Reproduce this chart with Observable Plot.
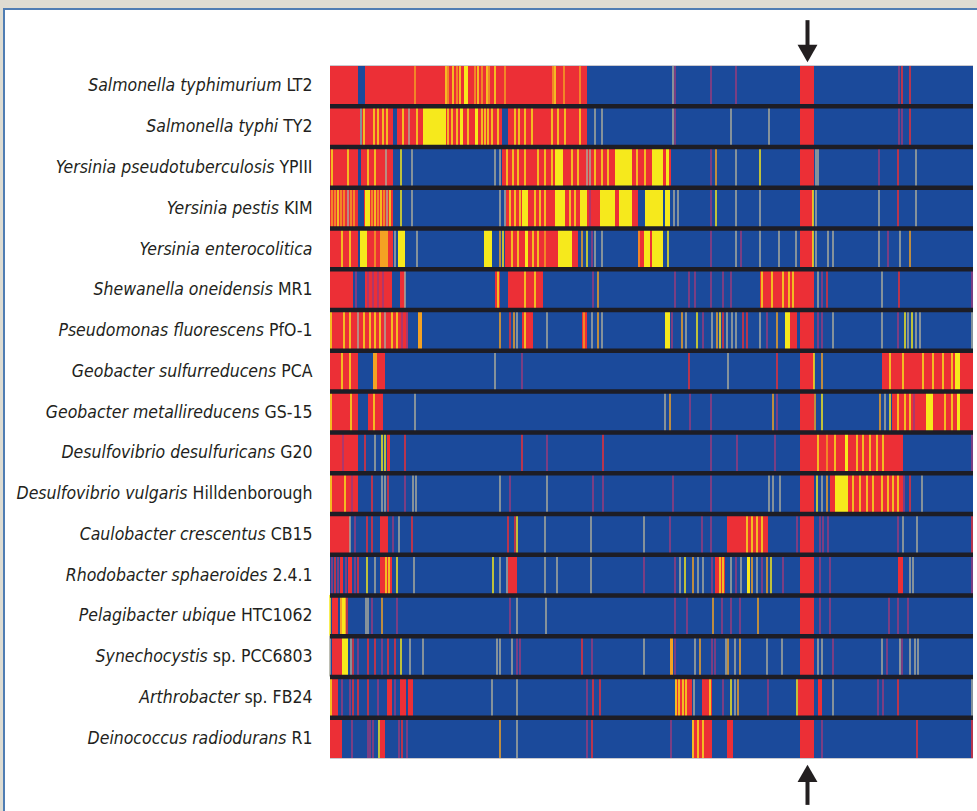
<!DOCTYPE html>
<html>
<head>
<meta charset="utf-8">
<script src="https://cdn.jsdelivr.net/npm/d3@7"></script>
<script src="https://cdn.jsdelivr.net/npm/@observablehq/plot@0.6"></script>
<style>
  html, body { margin: 0; padding: 0; width: 977px; height: 811px; overflow: hidden; background: #dedcd2; }
  #panel { position: absolute; left: 3px; top: 8px; right: 0; bottom: 0; background: #ffffff; border-left: 2px solid #4f7db3; border-top: 2px solid #4f7db3; }
  #chart { position: absolute; left: 0; top: 0; }
</style>
</head>
<body>
<div id="panel"></div>
<div id="chart"></div>
<script>
// Organism names: italic part and regular (strain) part
const genusSpecies = ["Salmonella typhimurium", "Salmonella typhi", "Yersinia pseudotuberculosis", "Yersinia pestis", "Yersinia enterocolitica", "Shewanella oneidensis", "Pseudomonas fluorescens", "Geobacter sulfurreducens", "Geobacter metallireducens", "Desulfovibrio desulfuricans", "Desulfovibrio vulgaris", "Caulobacter crescentus", "Rhodobacter sphaeroides", "Pelagibacter ubique", "Synechocystis", "Arthrobacter", "Deinococcus radiodurans"];
const strains = ["LT2", "TY2", "YPIII", "KIM", "", "MR1", "PfO-1", "PCA", "GS-15", "G20", "Hilldenborough", "CB15", "2.4.1", "HTC1062", "sp. PCC6803", "sp. FB24", "R1"];

// Genome position extent (arbitrary units along the bar)
const barExtent = [0, 643];
// Position of the highlighted (arrow) locus
const arrowLocus = [477];

// Stripe types: B blue background, R red, Y yellow, O orange, G grey, P purple
const stripeTypes = ["B", "R", "Y", "O", "G", "P"];
const stripeColors = ["#1b4a9b", "#ec2f36", "#f6e91c", "#f4a223", "#a9ab9c", "#9a3b7c"];

// Each row: [start, end, type] blocks or [center, type] thin lines
const rowLT2 = [[0,28,"R"],[35,257,"R"],[134,138,"Y"],[470,484,"R"],
  [85,"O"],[116,"Y"],[118,"O"],[123,"Y"],[127,"O"],[130,"Y"],[145,"O"],[148,"Y"],[152,"O"],[157,"Y"],[159,"O"],[165,"Y"],[175,"O"],[223,"O"],[225,"Y"],[234,"O"],[250,"O"],
  [343,"G"],[345,"P"],[381,"P"],[406,"P"],[569,"P"],[572,"R"],[580,"R"]];
const rowTY2 = [[0,30,"R"],[32,63,"R"],[67,93,"R"],[93,116,"Y"],[116,172,"R"],[178,257,"R"],[130,133,"Y"],[145,148,"Y"],[470,484,"R"],
  [31,"G"],[34,"Y"],[44,"Y"],[48,"Y"],[53,"Y"],[57,"Y"],[73,"Y"],[79,"G"],[87,"Y"],[118,"Y"],[122,"Y"],[127,"Y"],[138,"Y"],[152,"Y"],[155,"Y"],[158,"Y"],[162,"Y"],[168,"Y"],
  [185,"Y"],[189,"Y"],[195,"Y"],[202,"Y"],[222,"Y"],[228,"Y"],[235,"Y"],[250,"Y"],[265,"G"],[272,"G"],
  [343,"G"],[345,"P"],[401,"G"],[439,"G"],[569,"P"],[572,"P"],[580,"R"]];
const rowYPIII = [[0,28,"R"],[31,63,"R"],[172,341,"R"],[225,233,"Y"],[285,302,"Y"],[322,333,"Y"],[336,339,"Y"],[470,484,"R"],
  [2,"Y"],[18,"Y"],[38,"Y"],[45,"Y"],[56,"G"],[71,"Y"],[82,"G"],[165,"G"],[170,"G"],
  [177,"Y"],[183,"Y"],[188,"Y"],[195,"Y"],[208,"Y"],[215,"Y"],[222,"Y"],[242,"Y"],[248,"Y"],[257,"G"],[260,"G"],[265,"Y"],[272,"Y"],[278,"Y"],[307,"Y"],[315,"Y"],[323,"Y"],
  [381,"P"],[386,"O"],[406,"G"],[430,"Y"],[486,"G"],[488,"G"],[549,"P"],[568,"R"],[586,"G"]];
const rowKIM = [[0,28,"R"],[34,63,"R"],[35,40,"Y"],[176,308,"R"],[192,198,"Y"],[225,235,"Y"],[250,257,"Y"],[270,285,"Y"],[289,302,"Y"],[315,333,"Y"],[335,340,"Y"],[470,483,"R"],
  [2,"O"],[5,"O"],[8,"Y"],[11,"O"],[14,"O"],[18,"G"],[21,"O"],[24,"O"],[42,"O"],[45,"Y"],[48,"O"],[51,"Y"],[54,"O"],[57,"G"],[60,"Y"],[71,"Y"],[82,"G"],[170,"G"],[175,"G"],
  [180,"Y"],[185,"Y"],[190,"Y"],[205,"Y"],[210,"Y"],[215,"Y"],[240,"Y"],[245,"Y"],[260,"P"],
  [344,"G"],[348,"G"],[381,"P"],[386,"Y"],[406,"G"],[430,"G"],[483,"Y"],[486,"G"],[549,"G"],[568,"R"],[586,"G"]];
const rowEntero = [[0,28,"R"],[30,37,"Y"],[37,50,"R"],[50,58,"O"],[58,63,"R"],[68,75,"Y"],[154,162,"Y"],[175,228,"R"],[195,198,"Y"],[228,242,"Y"],[242,248,"R"],[308,322,"R"],[314,320,"Y"],[322,333,"Y"],[470,483,"R"],
  [12,"Y"],[20,"Y"],[45,"O"],[65,"G"],[87,"G"],[170,"O"],[173,"Y"],[182,"Y"],[188,"Y"],[203,"Y"],[208,"Y"],[215,"O"],[252,"O"],[257,"Y"],[262,"P"],[265,"G"],[272,"G"],[309,"O"],[338,"Y"],
  [381,"P"],[406,"G"],[411,"P"],[430,"G"],[449,"G"],[466,"G"],[483,"Y"],[486,"G"],[498,"G"],[503,"G"],[549,"G"],[558,"P"],[570,"G"],[580,"O"]];
const rowMR1 = [[0,23,"R"],[35,62,"R"],[70,75,"R"],[165,170,"R"],[178,213,"R"],[430,484,"R"],
  [26,"P"],[38,"P"],[43,"P"],[48,"P"],[53,"P"],[75,"G"],[168,"Y"],[195,"Y"],[205,"Y"],[263,"P"],[268,"O"],
  [345,"P"],[359,"P"],[365,"P"],[381,"P"],[393,"P"],[401,"P"],[432,"Y"],[442,"Y"],[453,"Y"],[459,"Y"],[463,"Y"],[488,"G"],[492,"P"],[497,"R"],[552,"G"],[569,"R"],[642,"P"]];
const rowPfO1 = [[0,78,"R"],[88,92,"O"],[192,203,"R"],[252,257,"R"],[335,340,"Y"],[455,460,"Y"],[460,467,"R"],[470,484,"R"],
  [1,"Y"],[14,"Y"],[20,"Y"],[28,"G"],[34,"Y"],[40,"Y"],[45,"Y"],[50,"Y"],[55,"G"],[62,"Y"],[67,"Y"],[72,"P"],[77,"P"],[170,"O"],[180,"R"],[184,"O"],[187,"G"],[195,"Y"],[217,"G"],[254,"O"],[262,"G"],[268,"O"],[272,"G"],
  [342,"P"],[352,"O"],[356,"G"],[367,"Y"],[373,"P"],[382,"G"],[387,"O"],[390,"Y"],[393,"R"],[397,"G"],[402,"G"],[406,"G"],[413,"R"],[417,"R"],[430,"G"],[437,"P"],[447,"O"],
  [488,"P"],[492,"P"],[503,"G"],[552,"G"],[568,"P"],[575,"Y"],[578,"G"],[582,"Y"],[586,"G"],[590,"G"],[642,"G"]];
const rowPCA = [[0,28,"R"],[43,47,"O"],[47,55,"R"],[470,484,"R"],[552,643,"R"],[625,630,"Y"],
  [12,"Y"],[20,"Y"],[165,"G"],[192,"P"],[359,"R"],[398,"G"],[447,"R"],[484,"Y"],[492,"O"],
  [560,"Y"],[573,"Y"],[593,"Y"],[603,"Y"],[613,"Y"],[622,"Y"]];
const rowGS15 = [[0,28,"R"],[38,53,"R"],[470,484,"R"],[562,643,"R"],[596,603,"Y"],[627,630,"Y"],
  [1,"Y"],[21,"Y"],[44,"Y"],[85,"G"],[335,"G"],[340,"O"],[360,"P"],[381,"P"],[443,"O"],[447,"P"],[485,"O"],[492,"Y"],
  [550,"O"],[555,"G"],[560,"Y"],[568,"Y"],[575,"Y"],[580,"Y"],[584,"P"],[615,"Y"],[622,"Y"]];
const rowG20 = [[0,28,"R"],[57,60,"R"],[470,573,"R"],[515,518,"Y"],
  [13,"P"],[35,"R"],[45,"G"],[52,"Y"],[55,"Y"],[75,"R"],[192,"R"],[217,"P"],[273,"R"],
  [381,"P"],[407,"P"],[445,"P"],[488,"Y"],[497,"O"],[505,"Y"],[527,"Y"],[533,"Y"],[540,"Y"],[547,"Y"],[553,"Y"],[642,"P"]];
const rowHild = [[0,28,"R"],[470,484,"R"],[500,573,"R"],[505,518,"Y"],
  [1,"Y"],[15,"Y"],[22,"P"],[42,"R"],[52,"G"],[55,"G"],[58,"R"],[75,"P"],[83,"G"],[86,"G"],[170,"G"],[180,"P"],[217,"G"],[263,"P"],[273,"P"],
  [343,"P"],[381,"P"],[439,"G"],[443,"G"],[450,"G"],[487,"Y"],[492,"G"],[497,"O"],[523,"Y"],[530,"Y"],[537,"Y"],[543,"Y"],[552,"Y"],[558,"Y"],[563,"Y"],[568,"Y"],[574,"P"],[580,"R"],[592,"G"]];
const rowCB15 = [[0,20,"R"],[50,58,"R"],[397,438,"R"],[470,484,"R"],
  [20,"G"],[25,"P"],[37,"R"],[42,"R"],[63,"P"],[69,"G"],[82,"R"],[178,"R"],[185,"R"],[187,"Y"],[215,"G"],[261,"G"],[314,"G"],
  [340,"P"],[372,"P"],[381,"P"],[417,"Y"],[422,"Y"],[427,"Y"],[432,"Y"],[467,"P"],[490,"P"],[493,"P"],[498,"P"],[568,"P"],[573,"G"],[587,"G"],[642,"R"]];
const row241 = [[10,13,"R"],[18,22,"R"],[50,62,"R"],[178,187,"R"],[385,395,"R"],[417,420,"Y"],[470,484,"R"],[568,573,"R"],
  [2,"P"],[5,"R"],[8,"P"],[16,"P"],[25,"P"],[28,"R"],[37,"Y"],[45,"G"],[56,"Y"],[59,"Y"],[67,"Y"],[84,"G"],[163,"Y"],[170,"G"],[177,"G"],[215,"G"],[227,"G"],[261,"G"],[314,"P"],
  [345,"P"],[350,"G"],[355,"Y"],[363,"O"],[368,"G"],[373,"G"],[382,"P"],[390,"Y"],[393,"Y"],[401,"G"],[406,"P"],[411,"G"],[422,"O"],[427,"G"],[432,"P"],[437,"O"],[441,"Y"],[453,"P"],
  [490,"P"],[500,"P"],[580,"G"],[583,"G"],[642,"P"]];
const rowHTC = [[2,8,"R"],[10,16,"O"],[12,15,"Y"],[470,484,"R"],
  [0,"Y"],[17,"R"],[36,"G"],[38,"G"],[42,"P"],[52,"O"],[67,"P"],[180,"P"],[187,"G"],[216,"G"],
  [345,"P"],[357,"P"],[383,"O"],[392,"P"],[401,"P"],[410,"P"],[428,"O"],[490,"P"],[500,"P"],[559,"P"],[568,"P"],[578,"P"]];
const rowPCC = [[2,12,"R"],[12,18,"Y"],[340,343,"O"],[470,484,"R"],
  [0,"G"],[21,"G"],[23,"R"],[28,"P"],[38,"R"],[45,"R"],[52,"P"],[58,"R"],[65,"R"],[71,"Y"],[80,"G"],[93,"G"],[167,"G"],[170,"G"],[182,"G"],[187,"P"],[190,"P"],[252,"R"],[262,"P"],[314,"G"],
  [345,"P"],[365,"G"],[370,"O"],[382,"P"],[385,"P"],[396,"G"],[398,"O"],[405,"G"],[410,"O"],[437,"G"],[452,"G"],[488,"G"],[492,"G"],[503,"P"],[552,"G"],[557,"P"],[570,"G"],[572,"P"],[580,"G"],[585,"G"],[588,"G"]];
const rowFB24 = [[0,8,"R"],[57,62,"R"],[70,76,"R"],[78,83,"R"],[345,362,"R"],[372,382,"R"],[468,484,"R"],[488,492,"R"],
  [1,"Y"],[12,"P"],[20,"P"],[23,"R"],[28,"R"],[38,"R"],[48,"P"],[65,"P"],[162,"G"],[187,"G"],[257,"P"],[263,"R"],[270,"R"],
  [346,"Y"],[349,"Y"],[353,"Y"],[356,"Y"],[364,"G"],[380,"Y"],[393,"P"],[401,"Y"],[405,"G"],[408,"O"],[438,"P"],[467,"Y"],[503,"G"],[548,"P"],[553,"P"],[568,"R"],[642,"G"]];
const rowR1 = [[0,12,"R"],[50,55,"R"],[362,382,"R"],[397,403,"R"],[470,484,"R"],
  [22,"P"],[38,"P"],[40,"P"],[43,"P"],[49,"Y"],[69,"P"],[72,"R"],[77,"P"],[170,"O"],[187,"G"],[257,"P"],[262,"R"],
  [341,"P"],[363,"Y"],[368,"Y"],[373,"Y"],[492,"P"],[587,"R"],[642,"R"]];

const rows = [rowLT2, rowTY2, rowYPIII, rowKIM, rowEntero, rowMR1, rowPfO1, rowPCA, rowGS15, rowG20, rowHild, rowCB15, row241, rowHTC, rowPCC, rowFB24, rowR1];

// Build table for the library
const lineHalf = 0.75;
const blocks = [], lines = [];
rows.forEach((segs, row) => {
  for (const s of segs) {
    if (s.length === 3) blocks.push({row, x1: s[0], x2: s[1], type: s[2]});
    else lines.push({row, x1: s[0] - lineHalf, x2: s[0] + lineHalf, type: s[1]});
  }
});
blocks.sort((a, b) => (a.type === "R" ? 0 : 1) - (b.type === "R" ? 0 : 1));
const base = genusSpecies.map((g, row) => ({row, x1: barExtent[0], x2: barExtent[1], type: "B"}));
const labels = genusSpecies.map((g, row) => ({row, g, s: strains[row], text: strains[row] ? g + " " + strains[row] : g}));

// Custom down-pointing triangle symbol
const triDown = {draw(ctx, size) { const y = -Math.sqrt(size / (Math.sqrt(3) * 3)); ctx.moveTo(0, -y * 2); ctx.lineTo(-Math.sqrt(3) * y, y); ctx.lineTo(Math.sqrt(3) * y, y); ctx.closePath(); }};

const rowGap = [1,2,3,4,5,6,7,8,9,10,11,12,13,14,15,16];

const plot = Plot.plot({
  width: 977, height: 811,
  marginLeft: 330, marginRight: 4, marginTop: 65, marginBottom: 53,
  style: {background: "transparent", overflow: "visible"},
  x: {domain: barExtent, axis: null},
  y: {domain: [0, 17], reverse: true, axis: null},
  color: {domain: stripeTypes, range: stripeColors},
  marks: [
    Plot.rect(base, {x1: "x1", x2: "x2", y1: d => d.row, y2: d => d.row + 1, fill: "type"}),
    Plot.rect(blocks, {x1: "x1", x2: "x2", y1: d => d.row, y2: d => d.row + 1, fill: "type"}),
    Plot.rect(lines, {x1: "x1", x2: "x2", y1: d => d.row, y2: d => d.row + 1, fill: "type"}),
    Plot.ruleY(rowGap, {stroke: "#1d1d26", strokeWidth: 4.5}),
    Plot.ruleY([0, 17], {stroke: "#c9c9cf", strokeWidth: 1}),
    // top arrow
    Plot.ruleX(arrowLocus, {y1: -1.1, y2: -0.47, stroke: "#231f20", strokeWidth: 4}),
    Plot.dot(arrowLocus, {x: d => d, y: -0.365, symbol: triDown, r: 7.4, fill: "#231f20", stroke: null}),
    // bottom arrow
    Plot.ruleX(arrowLocus, {y1: 17.45, y2: 18.15, stroke: "#231f20", strokeWidth: 4}),
    Plot.dot(arrowLocus, {x: d => d, y: 17.435, symbol: "triangle", r: 7.4, fill: "#231f20", stroke: null}),
    Plot.text(labels, {x: barExtent[0], y: d => d.row + 0.5, text: "text", textAnchor: "end", dx: -18, fill: "#231f20", fontSize: 17.5, fontFamily: "'Liberation Sans Narrow', 'Arial Narrow', 'DejaVu Sans Condensed', sans-serif"})
  ]
});

// Style labels: italic genus/species, upright strain
d3.select(plot).selectAll('g[aria-label="text"] text').each(function(_, i) {
  const d = labels[i];
  const t = d3.select(this);
  t.text(null);
  t.append("tspan").attr("font-style", "italic").text(d.g);
  if (d.s) t.append("tspan").text(" " + d.s);
});

document.getElementById("chart").appendChild(plot);
</script>
</body>
</html>
